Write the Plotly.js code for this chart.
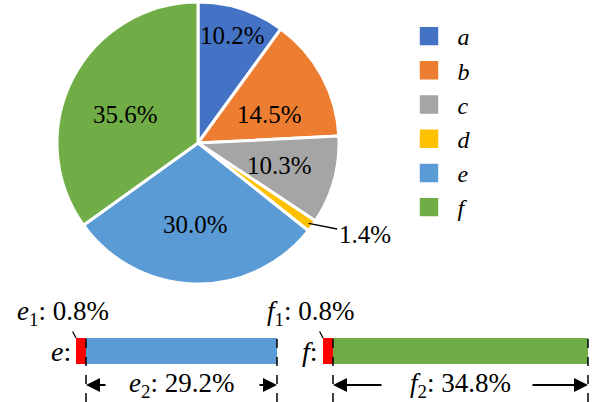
<!DOCTYPE html>
<html>
<head>
<meta charset="utf-8">
<script src="https://cdn.plot.ly/plotly-3.0.1.min.js"></script>
<style>
html,body{margin:0;padding:0;background:#fff;}
#chart{width:600px;height:402px;}
</style>
</head>
<body>
<div id="chart"></div>
<script>
// ---- data ----
const labels = ['a', 'b', 'c', 'd', 'e', 'f'];
const shares = [10.2, 14.5, 10.3, 1.4, 30.0, 35.6];
const eLabels = ['e1', 'e2'];
const eParts = [0.8, 29.2];
const fLabels = ['f1', 'f2'];
const fParts = [0.8, 34.8];

// ---- style ----
const colors = ['#4472C4', '#ED7D31', '#A5A5A5', '#FFC000', '#5B9BD5', '#70AD47'];
const FONT = 'Liberation Serif';
const W = 600, H = 402;
const pieCx = 198, pieCy = 143, pieR = 141;
const labelRad = [0.8, 0.58, 0.6, null, 0.58, 0.58];
const labelShiftY = [0, 10, 0, 0, 0, 9];

const pieDomain = {
  x: [(pieCx - pieR) / W, (pieCx + pieR) / W],
  y: [1 - (pieCy + pieR) / H, 1 - (pieCy - pieR) / H]
};

const traces = [];
traces.push({
  type: 'pie',
  labels: labels,
  values: shares,
  sort: false,
  direction: 'clockwise',
  rotation: 0,
  textinfo: 'none',
  hoverinfo: 'none',
  marker: {colors: colors, line: {color: '#ffffff', width: 3}},
  domain: pieDomain
});

const barTop = 338, barBot = 364;
const yDom = [1 - barBot / H, 1 - barTop / H];
function seg(xv, base, color, xa) {
  return {
    type: 'bar', orientation: 'h', x: [xv], base: [base], y: [0], width: [1],
    marker: {color: color, line: {width: 0}}, xaxis: xa, yaxis: 'y',
    hoverinfo: 'none', showlegend: false
  };
}
traces.push(seg(eParts[0], 0, '#FF0000', 'x'));
traces.push(seg(eParts[1], eParts[0], colors[4], 'x2'));
traces.push(seg(fParts[0], 0, '#FF0000', 'x3'));
traces.push(seg(fParts[1], fParts[0], colors[5], 'x4'));

const axDom = {
  x: [76 / W, 86 / W], x2: [86 / W, 277 / W],
  x3: [323 / W, 333 / W], x4: [333 / W, 588 / W]
};
const axRange = {
  x: [0, eParts[0]], x2: [eParts[0], eParts[0] + eParts[1]],
  x3: [0, fParts[0]], x4: [fParts[0], fParts[0] + fParts[1]]
};
function toPaper(ax, v) {
  const d = axDom[ax], r = axRange[ax];
  return d[0] + (v - r[0]) / (r[1] - r[0]) * (d[1] - d[0]);
}

const hidden = {visible: false, fixedrange: true};
const layout = {
  width: W, height: H,
  margin: {l: 0, r: 0, t: 0, b: 0},
  paper_bgcolor: '#fff', plot_bgcolor: 'rgba(0,0,0,0)',
  font: {family: FONT, color: '#000', size: 24},
  showlegend: true,
  legend: {
    x: 400.5 / W, y: 1 - 14 / H, xanchor: 'left', yanchor: 'top',
    font: {family: FONT, size: 24, style: 'italic', color: '#000'},
    bgcolor: 'rgba(0,0,0,0)', itemwidth: 47
  },
  xaxis: Object.assign({domain: axDom.x, range: axRange.x, anchor: 'y'}, hidden),
  xaxis2: Object.assign({domain: axDom.x2, range: axRange.x2, anchor: 'y'}, hidden),
  xaxis3: Object.assign({domain: axDom.x3, range: axRange.x3, anchor: 'y'}, hidden),
  xaxis4: Object.assign({domain: axDom.x4, range: axRange.x4, anchor: 'y'}, hidden),
  yaxis: Object.assign({domain: yDom, range: [-0.5, 0.5]}, hidden),
  shapes: [],
  annotations: []
};

const total = shares.reduce((s, v) => s + v, 0);
let cum = 0;
shares.forEach((v, i) => {
  const mid = (cum + v / 2) / total * 2 * Math.PI;
  cum += v;
  const txt = v.toFixed(1) + '%';
  if (labelRad[i] === null) {
    const r = pieR * 0.97;
    const px = pieCx + r * Math.sin(mid), py = pieCy - r * Math.cos(mid);
    layout.annotations.push({
      xref: 'paper', yref: 'paper', x: px / W, y: 1 - py / H,
      text: txt, showarrow: true, arrowhead: 0, arrowwidth: 1.3, arrowcolor: '#000',
      ax: 56, ay: 11, standoff: 0, font: {family: FONT, size: 25, color: '#000'}
    });
  } else {
    const r = pieR * labelRad[i];
    const px = pieCx + r * Math.sin(mid), py = pieCy - r * Math.cos(mid) + labelShiftY[i];
    layout.annotations.push({
      xref: 'paper', yref: 'paper', x: px / W, y: 1 - py / H,
      xanchor: 'center', yanchor: 'middle',
      text: txt, showarrow: false, font: {family: FONT, size: 25, color: '#000'}
    });
  }
});

const arrowY = 1 - 385 / H;
const barTopP = yDom[1], barMidP = (yDom[0] + yDom[1]) / 2;
function bottomGroup(name, parts, redAx, mainAx, lArrow, rArrow) {
  const end = parts[0] + parts[1];
  [parts[0], end].forEach(xv => {
    const xp = toPaper(mainAx, xv);
    layout.shapes.push({type: 'line', xref: 'paper', yref: 'paper', x0: xp, x1: xp, y0: 0, y1: barTopP,
      line: {color: '#000', width: 1.5, dash: 'dash'}});
  });
  layout.annotations.push({xref: 'paper', yref: 'paper', x: toPaper(redAx, 0), y: barMidP,
    xanchor: 'right', yanchor: 'middle', xshift: -3,
    text: '<i>' + name + '</i>:', showarrow: false, font: {family: FONT, size: 28, color: '#000'}});
  layout.annotations.push({xref: 'paper', yref: 'paper', x: toPaper(redAx, 0), y: barTopP,
    text: '<i>' + name + '</i><sub>1</sub>: ' + parts[0].toFixed(1) + '%', showarrow: true, arrowhead: 0,
    arrowwidth: 1.3, arrowcolor: '#000', ax: -13, ay: -25, standoff: 0,
    font: {family: FONT, size: 27, color: '#000'}});
  layout.annotations.push({xref: 'paper', yref: 'paper', x: toPaper(mainAx, parts[0]), y: arrowY, text: '',
    showarrow: true, arrowhead: 2, arrowsize: 1.4, arrowwidth: 2, arrowcolor: '#000', ax: lArrow, ay: 0, standoff: 0});
  layout.annotations.push({xref: 'paper', yref: 'paper', x: toPaper(mainAx, end), y: arrowY, text: '',
    showarrow: true, arrowhead: 2, arrowsize: 1.4, arrowwidth: 2, arrowcolor: '#000', ax: rArrow, ay: 0, standoff: 0});
  layout.annotations.push({xref: 'paper', yref: 'paper', x: toPaper(mainAx, (parts[0] + end) / 2), y: arrowY,
    xanchor: 'center', yanchor: 'middle',
    text: '<i>' + name + '</i><sub>2</sub>: ' + parts[1].toFixed(1) + '%', showarrow: false,
    font: {family: FONT, size: 27, color: '#000'}});
}
bottomGroup('e', eParts, 'x', 'x2', 21, -19);
bottomGroup('f', fParts, 'x3', 'x4', 50, -57);

Plotly.newPlot('chart', traces, layout, {displayModeBar: false, staticPlot: true}).then(() => {
  document.querySelectorAll('.legendpie').forEach(p => {
    const t = p.getAttribute('transform') || '';
    p.setAttribute('transform', t + ' scale(2.05)');
  });
});
</script>
</body>
</html>
